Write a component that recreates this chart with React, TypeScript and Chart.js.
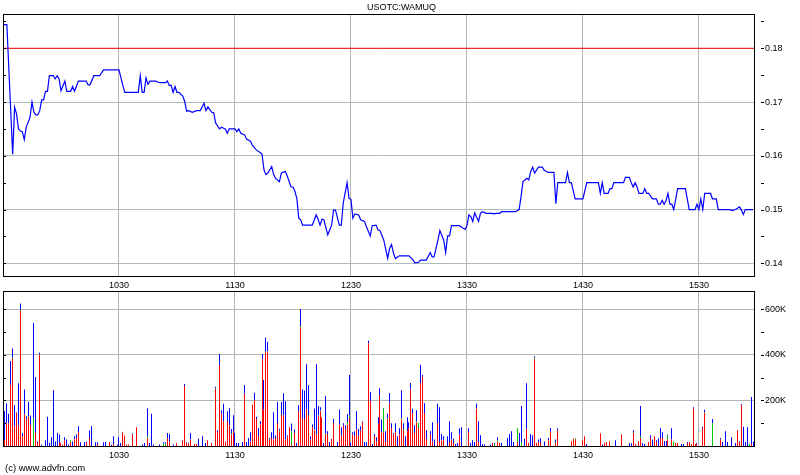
import React, { useEffect, useRef } from 'react';
import { Chart, registerables } from 'chart.js';

Chart.register(...registerables);

// ---------- text ----------
const SYMBOL = 'USOTC:WAMUQ';
const FOOTER = '(c) www.advfn.com';
const FONT = "'Liberation Sans', Arial, sans-serif";

// ---------- axes ----------
const OPEN_MINUTE = 570; // 09:30, x values are minutes after the open
const X_MAX = 388.5;
const timeTicks = [60, 120, 180, 240, 300, 360];
const priceTicks = [0.14, 0.15, 0.16, 0.17, 0.18];
const PRICE_MIN = 0.13764;
const PRICE_MAX = 0.18638;
const volumeTicks = [200, 400, 600]; // thousands
const VOLUME_MAX = 680;
const referenceLevel = 0.18;

// ---------- price (minute after open, price) ----------
const priceTimes = [
  0, 2, 5, 6, 7, 8, 9, 10, 11, 12, 14, 15, 16, 17, 18, 19, 20, 21, 22, 23,
  24, 26, 27, 28, 29, 30, 32, 33, 35, 36, 37, 39, 43, 44, 45, 47, 50, 52, 60, 62,
  63, 70, 71, 72, 73, 74, 75, 76, 79, 81, 84, 85, 86, 87, 88, 89, 90, 91, 93, 94,
  95, 96, 98, 100, 102, 104, 105, 106, 108, 109, 110, 112, 113, 115, 116, 117, 120, 121, 122, 123,
  125, 126, 128, 129, 131, 133, 134, 135, 136, 137, 139, 140, 141, 143, 144, 146, 147, 149, 150, 151,
  152, 153, 154, 155, 160, 162, 163, 164, 165, 166, 168, 169, 170, 171, 172, 174, 175, 176, 178, 179,
  180, 181, 182, 184, 185, 187, 188, 190, 191, 193, 194, 195, 197, 199, 200, 201, 202, 203, 205, 210,
  212, 213, 215, 216, 219, 221, 222, 223, 225, 226, 228, 229, 230, 231, 232, 236, 239, 240, 241, 242,
  243, 244, 246, 247, 248, 250, 253, 254, 255, 257, 258, 265, 267, 268, 269, 271, 272, 273, 274, 275,
  277, 279, 280, 282, 285, 286, 287, 290, 291, 292, 293, 294, 296, 300, 302, 308, 309, 310, 311, 313,
  314, 315, 316, 321, 322, 324, 325, 326, 327, 328, 329, 331, 332, 333, 334, 336, 338, 339, 340, 341,
  342, 343, 344, 345, 346, 347, 349, 353, 355, 358, 359, 360, 361, 362, 363, 366, 367, 369, 370, 376,
  377, 379, 381, 382, 383, 384, 388,
];
const priceValues = [
  0.1844, 0.1844, 0.1603, 0.169, 0.1678, 0.165, 0.1646, 0.1645, 0.163, 0.1653, 0.1672, 0.17, 0.1681, 0.1676, 0.1676, 0.1684, 0.1704, 0.1704, 0.172, 0.172,
  0.1749, 0.1749, 0.1743, 0.1749, 0.1743, 0.1721, 0.1739, 0.172, 0.172, 0.1729, 0.172, 0.1739, 0.1739, 0.1732, 0.1732, 0.1749, 0.1749, 0.176, 0.176, 0.1731,
  0.1718, 0.1718, 0.1749, 0.1718, 0.1718, 0.1745, 0.1733, 0.1739, 0.1739, 0.1736, 0.1736, 0.1739, 0.1731, 0.1731, 0.1718, 0.1729, 0.1718, 0.1718, 0.1711, 0.1701,
  0.1683, 0.1684, 0.1681, 0.1684, 0.1684, 0.1698, 0.1684, 0.1691, 0.1681, 0.168, 0.1661, 0.165, 0.1653, 0.165, 0.1642, 0.165, 0.165, 0.1645, 0.165, 0.1642,
  0.1639, 0.1631, 0.1627, 0.162, 0.1611, 0.1606, 0.1603, 0.1574, 0.1565, 0.1568, 0.158, 0.1565, 0.1558, 0.1552, 0.1568, 0.1571, 0.1563, 0.1542, 0.1542, 0.1534,
  0.1521, 0.1484, 0.1481, 0.1471, 0.1471, 0.149, 0.1482, 0.1471, 0.1482, 0.1481, 0.1453, 0.1462, 0.1471, 0.1499, 0.1499, 0.1471, 0.1471, 0.1512, 0.155, 0.1521,
  0.1519, 0.1484, 0.1492, 0.149, 0.1481, 0.1478, 0.1468, 0.1451, 0.147, 0.1471, 0.1462, 0.1461, 0.1443, 0.1409, 0.1428, 0.1435, 0.1419, 0.1409, 0.1414, 0.1414,
  0.1407, 0.1401, 0.1402, 0.1406, 0.1406, 0.142, 0.1412, 0.1412, 0.1443, 0.1461, 0.1443, 0.142, 0.1451, 0.1451, 0.147, 0.147, 0.1463, 0.147, 0.149, 0.1487,
  0.1478, 0.1494, 0.1478, 0.1493, 0.1496, 0.1493, 0.1493, 0.1492, 0.1493, 0.1493, 0.1496, 0.1496, 0.15, 0.1524, 0.1552, 0.1558, 0.1555, 0.1571, 0.1579, 0.1568,
  0.1579, 0.1579, 0.1573, 0.1569, 0.1569, 0.1511, 0.155, 0.155, 0.155, 0.1569, 0.155, 0.155, 0.152, 0.152, 0.155, 0.155, 0.153, 0.155, 0.153, 0.153,
  0.1539, 0.1539, 0.155, 0.155, 0.156, 0.156, 0.155, 0.1542, 0.155, 0.1542, 0.153, 0.153, 0.1539, 0.153, 0.153, 0.152, 0.152, 0.151, 0.151, 0.1517,
  0.151, 0.1517, 0.153, 0.151, 0.151, 0.15, 0.1539, 0.1539, 0.15, 0.15, 0.151, 0.15, 0.152, 0.15, 0.153, 0.153, 0.152, 0.152, 0.15, 0.15,
  0.1498, 0.15, 0.1505, 0.1499, 0.1491, 0.15, 0.15,
];

// ---------- volume (thousands) per minute: red / green / blue segments ----------
const volTimes = [
  0, 1, 2, 3, 4, 5, 6, 7, 8, 9,
  10, 11, 12, 13, 14, 16, 17, 18, 19, 20,
  22, 23, 24, 25, 26, 27, 28, 29, 30, 31,
  32, 33, 34, 35, 36, 37, 38, 39, 40, 42,
  43, 45, 46, 48, 49, 52, 53, 55, 56, 57,
  59, 60, 61, 62, 63, 64, 65, 67, 69, 72,
  73, 75, 76, 77, 78, 81, 83, 84, 85, 86,
  88, 90, 93, 94, 95, 96, 97, 99, 100, 101,
  103, 105, 106, 108, 110, 111, 112, 113, 114, 115,
  116, 117, 118, 119, 120, 121, 122, 124, 125, 126,
  127, 128, 129, 130, 131, 132, 133, 134, 135, 136,
  137, 138, 139, 140, 141, 142, 143, 144, 145, 146,
  147, 148, 149, 151, 152, 153, 154, 155, 156, 157,
  158, 159, 160, 161, 162, 163, 164, 165, 166, 167,
  168, 169, 170, 171, 173, 174, 175, 176, 177, 178,
  179, 180, 181, 182, 183, 184, 185, 186, 187, 188,
  189, 190, 191, 192, 193, 194, 195, 196, 197, 198,
  199, 200, 201, 202, 203, 204, 205, 206, 207, 208,
  209, 210, 211, 212, 213, 214, 215, 216, 217, 218,
  219, 221, 222, 223, 225, 226, 227, 228, 230, 231,
  232, 233, 234, 235, 236, 237, 241, 242, 243, 244,
  245, 246, 247, 248, 249, 252, 253, 254, 256, 257,
  258, 261, 262, 263, 264, 266, 267, 268, 270, 271,
  272, 273, 274, 275, 276, 277, 278, 280, 282, 283,
  286, 287, 294, 295, 296, 300, 301, 302, 309, 310,
  311, 312, 314, 317, 320, 324, 325, 326, 327, 329,
  330, 331, 332, 334, 335, 336, 337, 338, 339, 340,
  341, 342, 343, 344, 346, 347, 348, 349, 351, 352,
  354, 355, 356, 357, 358, 359, 362, 363, 367, 371,
  372, 374, 375, 377, 379, 380, 381, 382, 383, 384,
  385, 386, 387, 388,
];
const volRed = [
  170, 25, 100, 100, 266, 384, 87, 146, 90, 594,
  43, 138, 116, 128, 90, 0, 57, 13, 400, 0,
  0, 0, 0, 0, 0, 0, 0, 13, 13, 7,
  25, 0, 0, 18, 0, 28, 35, 60, 0, 0,
  13, 35, 0, 0, 9, 0, 0, 16, 0, 9,
  0, 0, 0, 60, 46, 7, 7, 50, 82, 0,
  0, 35, 0, 0, 0, 0, 0, 0, 35, 20,
  0, 12, 25, 263, 13, 10, 28, 9, 9, 0,
  0, 0, 25, 13, 251, 60, 354, 143, 109, 17,
  109, 90, 51, 65, 0, 0, 0, 0, 229, 0,
  0, 20, 182, 201, 119, 43, 94, 381, 160, 410,
  413, 28, 35, 28, 35, 101, 65, 138, 134, 28,
  43, 82, 5, 57, 0, 153, 520, 123, 119, 160,
  134, 28, 82, 69, 50, 131, 153, 125, 0, 50,
  53, 0, 31, 101, 0, 94, 46, 90, 75, 94,
  123, 0, 50, 43, 72, 46, 68, 104, 0, 0,
  451, 197, 0, 43, 20, 98, 222, 60, 60, 18,
  119, 187, 79, 50, 60, 0, 50, 116, 69, 0,
  65, 79, 248, 145, 57, 104, 79, 275, 304, 145,
  28, 50, 20, 0, 101, 18, 25, 25, 0, 18,
  28, 13, 0, 0, 50, 0, 60, 0, 0, 0,
  163, 18, 0, 0, 0, 0, 13, 0, 18, 13,
  0, 0, 0, 0, 0, 18, 0, 0, 0, 72,
  13, 0, 0, 381, 13, 18, 13, 0, 25, 62,
  13, 68, 21, 32, 28, 25, 43, 0, 56, 0,
  13, 18, 21, 0, 51, 0, 0, 57, 9, 21,
  35, 0, 0, 18, 35, 0, 43, 18, 0, 35,
  35, 0, 0, 28, 28, 0, 13, 13, 0, 0,
  13, 18, 9, 163, 9, 7, 78, 146, 0, 28,
  0, 0, 0, 0, 0, 69, 18, 179, 0, 0,
  0, 0, 9, 0,
];
const volGreen = [
  0, 0, 0, 0, 2, 3, 0, 0, 0, 4,
  0, 0, 0, 2, 0, 122, 0, 0, 3, 0,
  0, 0, 0, 0, 0, 0, 0, 0, 0, 0,
  0, 0, 0, 7, 0, 0, 0, 0, 0, 0,
  0, 0, 0, 0, 0, 0, 0, 0, 0, 0,
  0, 0, 0, 3, 0, 0, 0, 4, 0, 0,
  0, 7, 0, 0, 0, 0, 10, 10, 0, 0,
  0, 0, 0, 0, 0, 0, 0, 0, 0, 0,
  0, 0, 0, 0, 3, 0, 0, 0, 0, 0,
  0, 0, 3, 0, 0, 0, 0, 0, 0, 0,
  0, 0, 0, 0, 0, 0, 0, 0, 0, 3,
  3, 3, 0, 0, 0, 0, 3, 0, 0, 0,
  0, 0, 60, 0, 0, 0, 7, 0, 0, 0,
  0, 0, 0, 3, 3, 3, 3, 0, 0, 4,
  0, 0, 0, 0, 0, 0, 0, 0, 0, 11,
  10, 0, 0, 0, 0, 0, 0, 0, 0, 0,
  0, 0, 0, 0, 0, 0, 0, 0, 103, 0,
  3, 0, 0, 0, 0, 0, 0, 6, 6, 0,
  0, 0, 0, 0, 0, 4, 22, 0, 0, 0,
  0, 0, 0, 0, 0, 0, 0, 0, 0, 0,
  0, 0, 0, 0, 0, 0, 0, 0, 0, 0,
  3, 0, 0, 0, 0, 0, 0, 7, 6, 0,
  0, 0, 0, 0, 0, 60, 0, 15, 0, 0,
  0, 0, 0, 6, 0, 0, 0, 0, 0, 0,
  3, 0, 0, 0, 6, 0, 0, 0, 0, 0,
  0, 0, 0, 0, 0, 0, 0, 3, 0, 0,
  7, 0, 0, 0, 0, 0, 0, 0, 0, 0,
  0, 0, 0, 18, 0, 21, 0, 0, 0, 0,
  0, 0, 0, 0, 0, 0, 0, 3, 100, 0,
  0, 0, 0, 0, 0, 0, 0, 0, 0, 0,
  0, 10, 0, 0,
];
const volBlue = [
  3, 128, 87, 41, 105, 41, 92, 2, 185, 27,
  14, 110, 15, 63, 44, 418, 246, 7, 6, 6,
  25, 128, 13, 38, 245, 20, 57, 38, 0, 0,
  13, 28, 7, 0, 20, 15, 15, 27, 16, 16,
  7, 33, 87, 16, 7, 16, 19, 0, 6, 34,
  6, 38, 13, 0, 0, 0, 0, 3, 0, 7,
  13, 124, 13, 141, 7, 7, 6, 6, 22, 33,
  7, 0, 0, 9, 3, 3, 29, 0, 0, 32,
  43, 13, 0, 0, 6, 9, 50, 14, 76, 3,
  44, 76, 21, 70, 57, 13, 13, 18, 39, 18,
  35, 40, 0, 33, 9, 36, 15, 22, 130, 63,
  41, 4, 25, 120, 11, 92, 8, 55, 97, 168,
  4, 0, 34, 15, 13, 26, 74, 125, 125, 199,
  132, 15, 12, 93, 306, 41, 14, 0, 13, 165,
  12, 18, 0, 18, 18, 66, 36, 10, 16, 35,
  179, 13, 10, 22, 81, 29, 19, 5, 18, 18,
  11, 40, 9, 10, 18, 28, 31, 56, 3, 47,
  19, 45, 21, 7, 40, 43, 28, 123, 25, 43,
  61, 25, 28, 18, 34, 49, 0, 81, 8, 43,
  41, 15, 84, 28, 84, 152, 28, 18, 43, 91,
  32, 19, 9, 13, 28, 82, 18, 13, 25, 18,
  21, 91, 47, 9, 7, 7, 0, 6, 14, 0,
  13, 35, 53, 65, 18, 0, 57, 160, 32, 203,
  0, 53, 47, 7, 0, 10, 22, 20, 10, 17,
  12, 10, 0, 0, 0, 0, 0, 9, 0, 7,
  0, 0, 0, 25, 0, 12, 12, 9, 0, 0,
  133, 13, 9, 0, 12, 28, 0, 7, 34, 44,
  25, 22, 22, 5, 50, 0, 0, 0, 9, 9,
  5, 0, 0, 7, 0, 6, 6, 10, 19, 7,
  18, 65, 18, 38, 13, 0, 3, 5, 84, 18,
  82, 0, 206, 20,
];

// ---------- helpers ----------
const timeLabel = (v: number) => {
  const t = OPEN_MINUTE + v;
  const h = Math.floor(t / 60);
  const m = Math.round(t % 60);
  return `${h}${String(m).padStart(2, '0')}`;
};

const GRID_X = '#b4b4b4';
const GRID_Y = '#adbaba';
const AXIS_W = 46;

const framePlugin = (id: string, step: number, from: number, to: number, footer?: string) => ({
  id,
  afterDraw(chart: any) {
    const { ctx, chartArea } = chart;
    const l = Math.round(chartArea.left);
    const t = Math.round(chartArea.top);
    const r = Math.round(chartArea.right);
    const b = Math.round(chartArea.bottom);
    ctx.save();
    ctx.strokeStyle = '#000';
    ctx.lineWidth = 1;
    ctx.strokeRect(l + 0.5, t + 0.5, r - l, b - t);
    const ys = chart.scales.y;
    ctx.beginPath();
    for (let v = from; v <= to + step * 1e-6; v += step) {
      const py = Math.round(ys.getPixelForValue(v)) + 0.5;
      if (py < t || py > b) continue;
      ctx.moveTo(r + 7, py);
      ctx.lineTo(r + 10, py);
      ctx.moveTo(l, py);
      ctx.lineTo(l + 3, py);
    }
    ctx.stroke();
    if (footer) {
      ctx.fillStyle = '#000';
      ctx.font = `9.5px ${FONT}`;
      ctx.textBaseline = 'middle';
      ctx.textAlign = 'left';
      ctx.fillText(footer, 5, 180);
    }
    ctx.restore();
  },
});

// snap each 1px volume bar onto a whole pixel column so it stays crisp
const snapBarsPlugin = {
  id: 'snapBars',
  beforeDatasetsDraw(chart: any) {
    chart.data.datasets.forEach((_: any, i: number) => {
      chart.getDatasetMeta(i).data.forEach((el: any) => {
        el.x = Math.floor(el.x) + 0.5;
      });
    });
  },
};

const noPad = (s: any) => {
  s.paddingTop = 0;
  s.paddingBottom = 0;
  s.paddingLeft = 0;
  s.paddingRight = 0;
};

const xScale = (height: number) => ({
  type: 'linear' as const,
  min: 0,
  max: X_MAX,
  stacked: true,
  offset: false,
  afterBuildTicks: (s: any) => {
    s.ticks = timeTicks.map((v) => ({ value: v }));
  },
  afterFit: (s: any) => {
    s.height = height;
    noPad(s);
  },
  grid: { color: GRID_X, lineWidth: 1, drawTicks: false, offset: false },
  border: { display: false },
  ticks: {
    padding: 4,
    color: '#000',
    maxRotation: 0,
    autoSkip: false,
    font: { family: FONT, size: 9 },
    callback: (v: any) => timeLabel(Number(v)),
  },
});

export default function App() {
  const topRef = useRef<HTMLCanvasElement>(null);
  const botRef = useRef<HTMLCanvasElement>(null);

  useEffect(() => {
    const priceData = priceTimes.map((t, i) => ({ x: t, y: priceValues[i] }));
    const refData = [
      { x: 0, y: referenceLevel },
      { x: X_MAX, y: referenceLevel },
    ];

    const top = new Chart(topRef.current!, {
      type: 'line',
      data: {
        datasets: [
          { data: refData, borderColor: '#ff0000', borderWidth: 1, pointRadius: 0, order: 2 },
          { data: priceData, borderColor: '#0000ff', borderWidth: 1.2, pointRadius: 0, tension: 0, order: 1 },
        ],
      },
      options: {
        animation: false,
        responsive: false,
        devicePixelRatio: 1,
        events: [],
        layout: { padding: { left: 3, right: 0, top: 0, bottom: 0 } },
        plugins: {
          legend: { display: false },
          tooltip: { enabled: false },
          title: {
            display: true,
            text: SYMBOL,
            color: '#000',
            font: { family: FONT, size: 9, lineHeight: 12 / 9, weight: 'normal' },
            padding: { top: 2, bottom: 0 },
          },
        },
        scales: {
          x: xScale(20) as any,
          y: {
            type: 'linear',
            position: 'right',
            min: PRICE_MIN,
            max: PRICE_MAX,
            afterBuildTicks: (s: any) => {
              s.ticks = priceTicks.map((v) => ({ value: v }));
            },
            afterFit: (s: any) => {
              s.width = AXIS_W;
              noPad(s);
            },
            grid: { color: GRID_Y, lineWidth: 1, drawTicks: false },
            border: { display: false },
            ticks: {
              padding: 11,
              color: '#000',
              font: { family: FONT, size: 9 },
              callback: (v: any) => Number(v).toFixed(2),
            },
          },
        },
      },
      plugins: [framePlugin('frameTop', 0.005, 0.14, 0.185)],
    });

    const mk = (arr: number[]) => volTimes.map((t, i) => ({ x: t, y: arr[i] }));
    const barCommon = { barThickness: 1, borderWidth: 0, inflateAmount: 0 };
    const bottom = new Chart(botRef.current!, {
      type: 'bar',
      data: {
        datasets: [
          { data: mk(volRed), backgroundColor: '#ff0000', ...barCommon },
          { data: mk(volGreen), backgroundColor: '#00c800', ...barCommon },
          { data: mk(volBlue), backgroundColor: '#0000ff', ...barCommon },
        ],
      },
      options: {
        animation: false,
        responsive: false,
        devicePixelRatio: 1,
        events: [],
        layout: { padding: { left: 3, right: 0, top: 3, bottom: 0 } },
        plugins: { legend: { display: false }, tooltip: { enabled: false }, title: { display: false } },
        scales: {
          x: xScale(29) as any,
          y: {
            type: 'linear',
            position: 'right',
            stacked: true,
            min: 0,
            max: VOLUME_MAX,
            afterBuildTicks: (s: any) => {
              s.ticks = volumeTicks.map((v) => ({ value: v }));
            },
            afterFit: (s: any) => {
              s.width = AXIS_W;
              noPad(s);
            },
            grid: { color: GRID_X, lineWidth: 1, drawTicks: false },
            border: { display: false },
            ticks: {
              padding: 11,
              color: '#000',
              font: { family: FONT, size: 9 },
              callback: (v: any) => `${v}K`,
            },
          },
        },
      },
      plugins: [snapBarsPlugin, framePlugin('frameBottom', 100, 100, 600, FOOTER)],
    });

    return () => {
      top.destroy();
      bottom.destroy();
    };
  }, []);

  return (
    <div
      style={{
        position: 'absolute',
        left: 0,
        top: 0,
        width: 800,
        height: 475,
        background: '#ffffff',
        overflow: 'hidden',
      }}
    >
      <canvas ref={topRef} width={800} height={296} style={{ position: 'absolute', left: 0, top: 0, width: 800, height: 296 }} />
      <canvas ref={botRef} width={800} height={187} style={{ position: 'absolute', left: 0, top: 288, width: 800, height: 187 }} />
    </div>
  );
}
